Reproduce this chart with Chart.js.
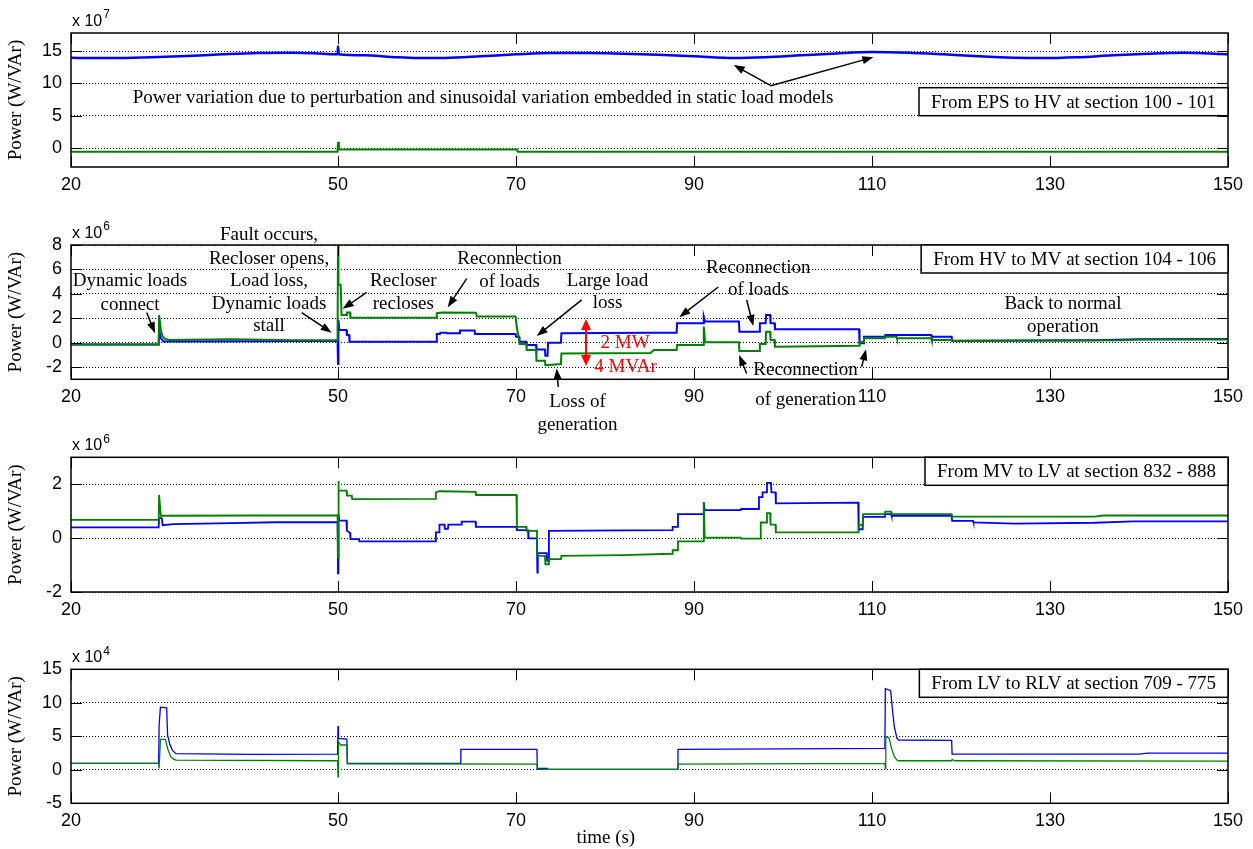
<!DOCTYPE html>
<html>
<head>
<meta charset="utf-8">
<script src="https://cdn.jsdelivr.net/npm/chart.js@4.4.1/dist/chart.umd.min.js"></script>
<style>
  body { margin: 0; background: #fff; }
  #fig { position: relative; width: 1253px; height: 849px; overflow: hidden; }
  #fig canvas { position: absolute; left: 0; }
</style>
</head>
<body>
<div id="fig">
  <canvas id="eps"></canvas>
  <canvas id="hv"></canvas>
  <canvas id="mv"></canvas>
  <canvas id="lv"></canvas>
</div>
<script>
// time axis (s)
const xTicks = [20, 50, 70, 90, 110, 130, 150];

// ---- EPS -> HV, section 100 - 101 (x 1e7) ----
const epsTicks = [0, 5, 10, 15];
const epsP = [[20,13.98],[23,13.92],[26,13.95],[29,14.05],[33,14.25],[37,14.5],[41,14.7],[45,14.75],[48,14.62],
  [49.95,14.5],[50,15.7],[50.1,14.5],[53,14.35],[56,14.1],[59,13.92],[62,13.95],[66,14.2],[70,14.5],[74,14.7],
  [78,14.7],[82,14.6],[86,14.45],[90,14.2],[94.6,13.92],[98,14.05],[102,14.35],[106,14.65],[110,14.85],[114,14.75],
  [118,14.5],[122,14.2],[126,13.98],[129,13.92],[133,14.05],[137,14.35],[141,14.6],[145,14.75],[148,14.65],[150,14.5]];
const epsQ = [[20,-0.55],[49.95,-0.55],[50,1.0],[50.1,-0.2],[70.1,-0.2],[70.2,-0.55],[150,-0.55]];

// ---- HV -> MV, section 104 - 106 (x 1e6) ----
const hvTicks = [-2, 0, 2, 4, 6, 8];
const hvP = [[20,-0.15],[29.85,-0.15],[29.9,1.0],[30.1,0.35],[30.4,0.1],[42,0.12],[49.95,0.16],
  [50,-1.75],[50.05,1.86],[50.15,1.04],[50.95,1.04],[51,0.63],[51.25,0.63],[51.3,0.08],
  [61.05,0.08],[61.1,0.71],[61.45,0.71],[61.5,0.82],[62.2,0.82],[62.25,0.77],[63.65,0.77],[63.7,0.99],[65.35,0.99],[65.4,0.71],
  [69.95,0.71],[70,0.49],[70.35,0.49],[70.4,0.08],[71.15,0.08],[71.2,-0.19],[72.25,-0.19],[72.3,-0.55],[73.25,-0.55],
  [73.3,-1.07],[73.55,-1.07],[73.6,0],[75.05,0],[75.1,0.77],[85.1,0.82],[88.05,0.82],
  [88.1,1.59],[91.05,1.59],[91.1,2.14],[91.25,1.73],[95.05,1.73],[95.1,0.9],[97.35,0.9],[97.4,1.59],[98.05,1.59],
  [98.1,2.27],[98.55,2.27],[98.6,1.59],[99.05,1.59],[99.1,1.1],
  [108.55,1.1],[108.6,-0.05],[109.05,-0.05],[109.1,0.49],[111.45,0.49],[111.5,0.63],[116.65,0.63],[116.7,0.49],
  [118.95,0.49],[119,0.16],[135,0.2],[140,0.28],[150,0.3]];
const hvQ = [[20,-0.15],[29.85,-0.15],[29.9,2.25],[30.1,1.0],[30.3,0.5],[30.6,0.3],[31,0.22],[38,0.28],[45,0.2],[49.95,0.2],
  [50,8],[50.05,4.74],[50.3,4.74],[50.4,2.27],[50.95,2.27],[51,2.47],[51.35,2.47],[51.4,2.05],[61.05,2.05],[61.1,2.41],
  [61.8,2.47],[65.5,2.45],[65.6,2.14],[69.95,2.14],
  [70.1,1.2],[70.3,0.49],[70.4,-0.11],[71.15,-0.11],[71.2,-0.6],[72.25,-0.6],[72.3,-1.48],[73.25,-1.48],[73.3,-1.84],
  [75.05,-1.75],[75.1,-0.88],[85.1,-0.85],[85.5,-0.6],[88.05,-0.6],
  [88.1,-0.19],[91.05,-0.19],[91.1,1.32],[91.25,0.03],[95.05,0.03],[95.1,-0.68],[97.35,-0.68],[97.4,-0.11],[98.05,-0.11],
  [98.1,0.9],[98.55,0.9],[98.6,0.22],[99.05,0.22],[99.1,-0.33],[104,-0.3],[108.55,-0.25],
  [108.6,0.08],[109.05,0.08],[109.1,0.36],[111.45,0.36],[111.5,0.49],[112.75,0.49],[112.8,0.36],[116.65,0.36],
  [116.7,0.22],[118.95,0.22],[119,0.14],[138,0.2],[140,0.27],[150,0.27]];

// ---- MV -> LV, section 832 - 888 (x 1e6) ----
const mvTicks = [-2, 0, 2];
const mvP = [[20,0.4],[29.85,0.4],[29.9,0.74],[30.2,0.74],[30.3,0.48],[31.5,0.52],[38,0.56],[43,0.59],[49.95,0.59],
  [50,-1.31],[50.05,0.9],[50.15,0.65],[50.95,0.65],[51,0.27],[51.35,0.2],[51.4,-0.04],[52.35,-0.04],[52.4,-0.12],[60.95,-0.12],
  [61,0.21],[61.35,0.21],[61.4,0.5],[61.95,0.5],[62,0.34],[62.35,0.34],[62.4,0.5],[63.85,0.5],[63.9,0.61],[65.45,0.61],
  [65.5,0.42],[70.05,0.42],
  [70.1,0.3],[71.35,0.3],[71.4,-0.01],[72.35,-0.01],[72.4,-1.28],[72.45,-0.56],[73.45,-0.56],[73.5,-0.84],[73.65,-0.84],
  [73.7,0.27],[82,0.29],[87.55,0.3],[87.6,0.42],[88.15,0.42],
  [88.2,0.89],[91.05,0.89],[91.1,1.33],[91.2,1.04],[95.25,1.04],[95.3,1.08],[97.25,1.08],[97.3,1.52],[97.65,1.52],
  [97.7,1.7],[98.15,1.7],[98.2,2.05],[98.65,2.05],[98.7,1.7],[99.15,1.7],[99.2,1.29],
  [108.45,1.32],[108.5,0.33],[108.95,0.33],[109,0.79],[111.45,0.79],[111.5,0.89],[112.15,0.89],[112.2,0.83],
  [118.95,0.83],[119,0.64],[121.35,0.64],[121.4,0.58],[126,0.54],[135,0.57],[139.4,0.62],[150,0.62]];
const mvQ = [[20,0.68],[29.85,0.68],[29.9,1.6],[30.1,0.83],[40,0.84],[49.95,0.84],
  [50,-0.72],[50.03,2.12],[50.1,1.76],[50.95,1.76],[51,1.58],[51.55,1.58],[51.6,1.45],[60.95,1.46],[61,1.7],[61.4,1.74],
  [65.45,1.72],[65.5,1.6],[70.05,1.6],
  [70.1,0.42],[71.15,0.42],[71.2,0.27],[72.35,0.27],[72.4,-0.66],[73.25,-0.66],[73.3,-0.97],[73.65,-0.97],[73.7,-0.78],
  [75.05,-0.78],[75.1,-0.66],[82,-0.63],[87.55,-0.58],[87.6,-0.45],[88.15,-0.45],
  [88.2,-0.12],[91.05,-0.12],[91.1,1.33],[91.2,0.02],[95.25,0.02],[95.3,-0.02],[97.45,-0.02],[97.5,0.58],[98.15,0.58],
  [98.2,0.93],[98.55,0.93],[98.6,0.5],[99.15,0.5],[99.2,0.21],[108.45,0.21],
  [108.5,0.49],[108.95,0.49],[109,0.89],[111.45,0.89],[111.5,0.98],[112.15,0.98],[112.2,0.89],[118.95,0.89],
  [119,0.8],[135,0.8],[136,0.84],[150,0.84]];

// ---- LV -> RLV, section 709 - 775 (x 1e4) ----
const lvTicks = [-5, 0, 5, 10, 15];
const lvP = [[20,0.95],[29.85,0.95],[29.9,6.7],[30.05,9.35],[30.75,9.25],[30.85,5.2],[31.1,3.8],[31.4,2.9],[31.8,2.4],
  [40,2.3],[49.95,2.35],
  [50,6.55],[50.05,4.7],[51,4.6],[51.05,0.95],[63.75,0.95],[63.8,3.05],[72.35,3.05],[72.4,0.2],[73.55,0.2],[73.6,0.05],
  [88.15,0.05],[88.2,3.05],[111.45,3.2],
  [111.5,12.1],[112.1,11.8],[112.3,9],[112.5,6.5],[112.8,4.7],[113,4.45],[118.95,4.4],[119,2.35],[140,2.35],[141,2.5],[150,2.5]];
const lvQ = [[20,0.95],[29.85,0.95],[29.9,0.2],[30.05,4.55],[30.6,4.55],[30.9,3.0],[31.2,2.0],[31.5,1.6],[31.8,1.45],
  [49.95,1.35],
  [50,-1.05],[50.05,4.2],[50.3,3.7],[51,3.7],[51.05,0.9],[72.35,0.85],[72.4,0.05],[88.15,0.05],[88.2,0.85],[111.45,0.95],
  [111.5,0.2],[111.55,4.95],[111.9,4.8],[112.2,3.2],[112.5,2.0],[112.8,1.45],[113,1.35],[118.95,1.35],[119,1.55],
  [119.3,1.35],[150,1.3]];

// annotations: [t, value, text, colour]
const epsNotes = [[66.3, 7.74, 'Power variation due to perturbation and sinusoidal variation embedded in static load models']];
const epsArrows = [[98.63, 9.66, 94.46, 12.87], [98.63, 9.66, 110.15, 14.06]];

const hvNotes = [
  [26.63, 5.02, 'Dynamic loads'], [26.63, 3.10, 'connect'],
  [42.25, 8.78, 'Fault occurs,'], [42.25, 6.89, 'Recloser opens,'], [42.25, 5.02, 'Load loss,'],
  [42.25, 3.16, 'Dynamic loads'], [42.25, 1.37, 'stall'],
  [57.34, 5.08, 'Recloser'], [57.34, 3.16, 'recloses'],
  [69.27, 6.86, 'Reconnection'], [69.27, 4.97, 'of loads'],
  [80.28, 5.08, 'Large load'], [80.28, 3.24, 'loss'],
  [82.25, -0.05, '2 MW', '#ff0000'], [82.3, -1.98, '4 MVAr', '#ff0000'],
  [76.91, -4.86, 'Loss of'], [76.91, -6.77, 'generation'],
  [97.22, 6.12, 'Reconnection'], [97.22, 4.28, 'of loads'],
  [102.53, -2.25, 'Reconnection'], [102.53, -4.72, 'of generation'],
  [131.46, 3.16, 'Back to normal'], [131.46, 1.32, 'operation']
];
const hvArrows = [
  [28.51, 2.47, 29.44, 0.77], [45.92, 2.47, 49.29, 0.82], [53.22, 4.12, 50.53, 2.77],
  [64.46, 5.24, 62.33, 2.91], [77.38, 3.51, 72.33, 0.55], [74.75, -3.62, 74.57, -2.11],
  [92.73, 4.56, 88.35, 2.09], [95.92, 3.51, 96.66, 1.37],
  [95.92, -2.52, 95.06, -1.01], [108.84, -1.98, 109.33, -0.54]
];
const hvRange = [[77.87, -0.02, 77.87, 1.93], [77.87, -0.02, 77.87, -1.92]];

const SERIF = "'Liberation Serif', 'Times New Roman', serif";
const SANS = "'Liberation Sans', Arial, sans-serif";
const TICK = 11;

function head(ctx, x1, y1, x2, y2, L, W) {
  const a = Math.atan2(y2 - y1, x2 - x1), c = Math.cos(a), s = Math.sin(a);
  ctx.beginPath();
  ctx.moveTo(x2, y2);
  ctx.lineTo(x2 - L * c + W * s, y2 - L * s - W * c);
  ctx.lineTo(x2 - L * c - W * s, y2 - L * s + W * c);
  ctx.closePath();
  ctx.fill();
}

function arrow(ctx, x1, y1, x2, y2, color, lw, L, W) {
  const a = Math.atan2(y2 - y1, x2 - x1);
  ctx.strokeStyle = color; ctx.fillStyle = color; ctx.lineWidth = lw;
  ctx.beginPath();
  ctx.moveTo(x1, y1);
  ctx.lineTo(x2 - (L - 2) * Math.cos(a), y2 - (L - 2) * Math.sin(a));
  ctx.stroke();
  head(ctx, x1, y1, x2, y2, L, W);
}

const notesPlugin = {
  id: 'notes',
  afterDatasetsDraw(chart, args, o) {
    const { ctx, chartArea: a, scales: { x, y } } = chart;
    const X = v => x.getPixelForValue(v), Y = v => y.getPixelForValue(v);
    ctx.save();
    ctx.setLineDash([]);

    // box and inward ticks
    ctx.strokeStyle = '#000';
    ctx.lineWidth = 1;
    ctx.beginPath();
    x.ticks.forEach(t => {
      const px = Math.round(X(t.value)) + 0.5;
      ctx.moveTo(px, a.top); ctx.lineTo(px, a.top + TICK);
      ctx.moveTo(px, a.bottom); ctx.lineTo(px, a.bottom - TICK);
    });
    y.ticks.forEach(t => {
      const py = Math.round(Y(t.value)) + 0.5;
      ctx.moveTo(a.left, py); ctx.lineTo(a.left + TICK, py);
      ctx.moveTo(a.right, py); ctx.lineTo(a.right - TICK, py);
    });
    ctx.stroke();
    ctx.lineWidth = 1.5;
    ctx.strokeRect(a.left, a.top, a.width, a.height);

    // exponent label
    ctx.fillStyle = '#000';
    ctx.textAlign = 'left';
    ctx.textBaseline = 'middle';
    ctx.font = '16px ' + SANS;
    ctx.fillText('x 10', a.left + 1, a.top - 11.5);
    const w = ctx.measureText('x 10').width;
    ctx.font = '12px ' + SANS;
    ctx.fillText(o.exp, a.left + 2 + w, a.top - 18);

    // text notes
    ctx.font = '19px ' + SERIF;
    ctx.textAlign = 'center';
    (o.texts || []).forEach(([t, v, s, c]) => {
      ctx.fillStyle = c || '#000';
      ctx.fillText(s, X(t), Y(v));
    });
    (o.arrows || []).forEach(([t1, v1, t2, v2]) => arrow(ctx, X(t1), Y(v1), X(t2), Y(v2), '#000', 1.5, 11, 4));
    (o.range || []).forEach(([t1, v1, t2, v2]) => arrow(ctx, X(t1), Y(v1), X(t2), Y(v2), '#ff0000', 2, 11, 5));

    // section label
    ctx.font = '19px ' + SERIF;
    const tw = ctx.measureText(o.label).width;
    const bw = tw + 24, bh = 28;
    const bx = a.right - bw, by = o.labelAt == null ? a.top : Y(o.labelAt);
    ctx.fillStyle = '#fff';
    ctx.fillRect(bx, by, bw, bh);
    ctx.strokeStyle = '#000';
    ctx.lineWidth = 1.5;
    ctx.strokeRect(bx, by, bw, bh);
    ctx.fillStyle = '#000';
    ctx.fillText(o.label, bx + bw / 2, by + bh / 2 + 1);

    if (o.xTitle) {
      ctx.fillText(o.xTitle[1], X(o.xTitle[0]), a.bottom + 35);
    }
    ctx.restore();
  }
};

const pts = list => list.map(([x, y]) => ({ x, y }));

function panel(id, g, yMin, yMax, yTicks, p, q, lw, note) {
  const cv = document.getElementById(id);
  cv.width = 1253; cv.height = g.h;
  cv.style.top = g.top + 'px';
  cv.style.width = '1253px'; cv.style.height = g.h + 'px';
  new Chart(cv, {
    type: 'line',
    data: {
      datasets: [
        { data: pts(q), borderColor: '#008000', borderWidth: lw[1], pointRadius: 0, tension: 0 },
        { data: pts(p), borderColor: '#0000ff', borderWidth: lw[0], pointRadius: 0,
          tension: 0, cubicInterpolationMode: note.smooth ? 'monotone' : 'default' }
      ]
    },
    options: {
      responsive: false,
      animation: false,
      events: [],
      layout: { padding: { top: g.plotTop - g.top, bottom: g.top + g.h - g.plotBottom - 28, left: 0, right: 25 } },
      plugins: { legend: { display: false }, tooltip: { enabled: false }, notes: note },
      scales: {
        x: {
          type: 'linear', min: 20, max: 150,
          afterBuildTicks: s => { s.ticks = xTicks.map(v => ({ value: v })); },
          afterFit: s => { s.height = 28; },
          grid: { display: false, drawTicks: false },
          border: { display: false },
          ticks: { autoSkip: false, maxRotation: 0, padding: 7, color: '#000', font: { family: SANS, size: 18 } }
        },
        y: {
          type: 'linear', min: yMin, max: yMax,
          afterBuildTicks: s => { s.ticks = yTicks.map(v => ({ value: v })); },
          afterFit: s => { s.width = 71; },
          grid: { color: '#000', lineWidth: 1, drawTicks: false },
          border: { display: false, dash: [1, 2] },
          ticks: { padding: 9, color: '#000', font: { family: SANS, size: 18 } },
          title: { display: true, text: 'Power (W/VAr)', color: '#000', font: { family: SERIF, size: 19 }, padding: { top: 5, bottom: 0 } }
        }
      }
    },
    plugins: [notesPlugin]
  });
}

panel('eps', { top: 0, h: 200, plotTop: 33, plotBottom: 167 }, -2.9, 17.8, epsTicks, epsP, epsQ, [2.5, 2],
  { exp: '7', texts: epsNotes, arrows: epsArrows, label: 'From EPS to HV at section 100 - 101', labelAt: 9.35, smooth: true });
panel('hv', { top: 190, h: 250, plotTop: 245, plotBottom: 379.3 }, -3, 8, hvTicks, hvP, hvQ, [2, 2],
  { exp: '6', texts: hvNotes, arrows: hvArrows, range: hvRange, label: 'From HV to MV at section 104 - 106' });
panel('mv', { top: 425, h: 200, plotTop: 457.3, plotBottom: 592 }, -2, 3, mvTicks, mvP, mvQ, [1.8, 1.8],
  { exp: '6', label: 'From MV to LV at section 832 - 888' });
panel('lv', { top: 625, h: 224, plotTop: 669.3, plotBottom: 803.3 }, -5, 15, lvTicks, lvP, lvQ, [1.3, 1.3],
  { exp: '4', label: 'From LV to RLV at section 709 - 775', xTitle: [80.1, 'time (s)'] });
</script>
</body>
</html>
